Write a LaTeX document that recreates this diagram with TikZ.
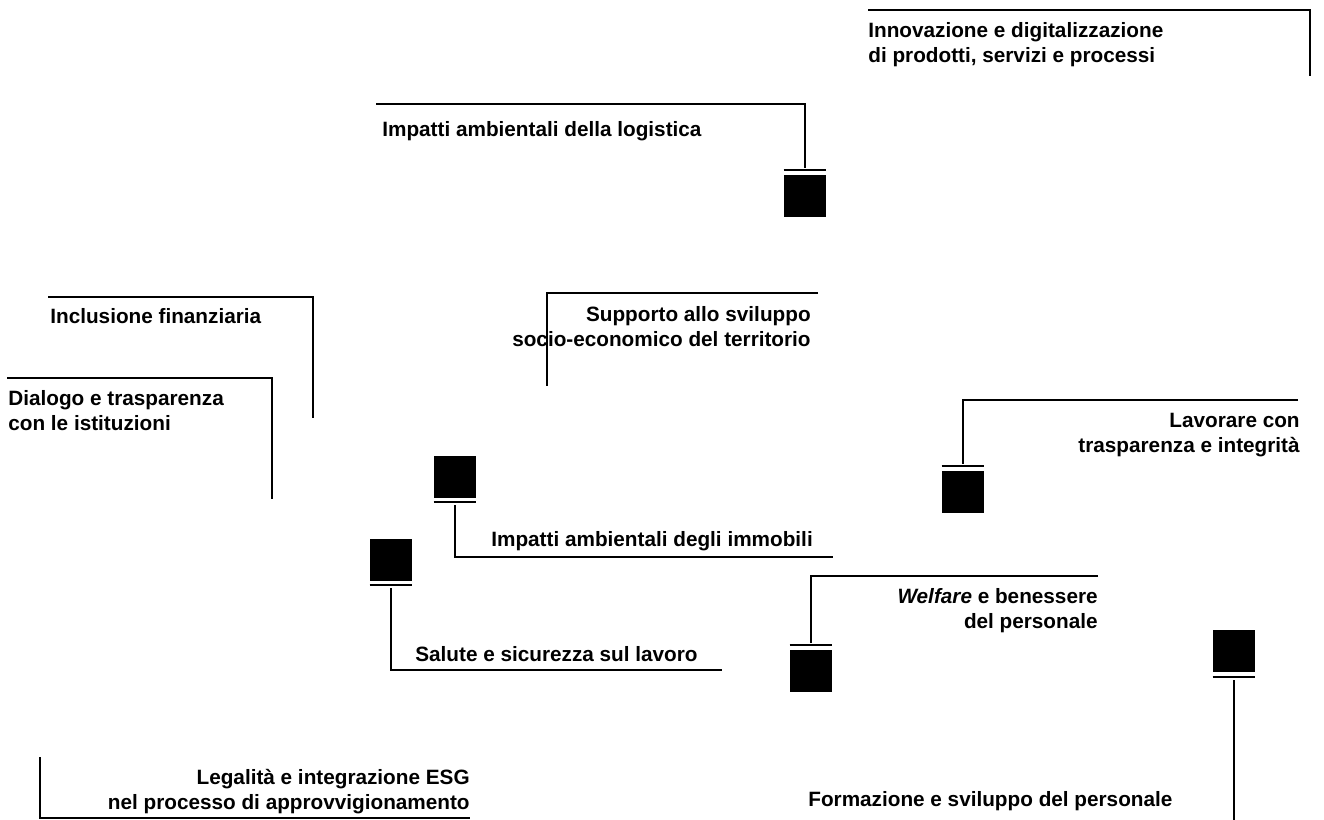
\documentclass[tikz,border=0pt]{standalone}
\usepackage{fontspec}
\setmainfont{Liberation Sans}
\usepackage{tikz}
\usetikzlibrary{positioning,calc}
\tikzset{
  mat topic/.style={font=\fontsize{11.8}{14.4}\selectfont\bfseries,inner sep=0pt},
  mat left/.style={mat topic,align=left,anchor=north west},
  mat right/.style={mat topic,align=right,anchor=north east},
  mat marker/.style={fill=black,draw=none,minimum width=0.84cm,minimum height=0.84cm,inner sep=0pt},
  mat leader/.style={line width=0.85pt,black},
  mat bar/.style={line width=1.3pt,black}
}

\begin{document}
\begin{tikzpicture}[x=0.02cm,y=-0.02cm]
  \useasboundingbox (0,0) rectangle (1324,820);

  % Topic labels
  \node[mat left] (inno) at (868,22) {Innovazione e digitalizzazione\\di prodotti, servizi e processi};
  \node[mat left] (logi) at (382,121) {Impatti ambientali della logistica};
  \node[mat left] (incl) at (50,308) {Inclusione finanziaria};
  \node[mat left] (dial) at (8,390) {Dialogo e trasparenza\\con le istituzioni};
  \node[mat right] (supp) at (811,306) {Supporto allo sviluppo\\socio-economico del territorio};
  \node[mat right] (lavo) at (1300,413) {Lavorare con\\trasparenza e integrità};
  \node[mat left] (immo) at (491,531) {Impatti ambientali degli immobili};
  \node[mat right] (welf) at (1098,588) {\textit{Welfare} e benessere\\del personale};
  \node[mat left] (salu) at (415,646) {Salute e sicurezza sul lavoro};
  \node[mat right] (lega) at (470,769) {Legalità e integrazione ESG\\nel processo di approvvigionamento};
  \node[mat left] (form) at (808,791) {Formazione e sviluppo del personale};

  % Black markers
  \node[mat marker] (logiSq) at (805,196) {};
  \node[mat marker] (lavoSq) at (963,492) {};
  \node[mat marker] (immoSq) at (455,477) {};
  \node[mat marker] (saluSq) at (391,560) {};
  \node[mat marker] (welfSq) at (811,671) {};
  \node[mat marker] (formSq) at (1234,651) {};

  % Bars sitting just off each marker, where the leader lands
  \coordinate (logiT) at ([yshift=0.1cm]logiSq.north);
  \coordinate (lavoT) at ([yshift=0.1cm]lavoSq.north);
  \coordinate (welfT) at ([yshift=0.1cm]welfSq.north);
  \coordinate (immoT) at ([yshift=-0.08cm]immoSq.south);
  \coordinate (saluT) at ([yshift=-0.08cm]saluSq.south);
  \coordinate (formT) at ([yshift=-0.1cm]formSq.south);
  \foreach \m in {logi,lavo,welf}
    \draw[mat bar] (\m Sq.west |- \m T) -- (\m Sq.east |- \m T);
  \foreach \m in {immo,salu,form}
    \draw[mat bar] (\m Sq.west |- \m T) -- (\m Sq.east |- \m T);

  % Frame corners and loose ends
  \coordinate (innoA) at (868,10);
  \coordinate (innoB) at (1310,10);
  \coordinate (innoC) at (1310,76);
  \coordinate (logiA) at (376,104);
  \coordinate (inclA) at (48,297);
  \coordinate (inclB) at (313,297);
  \coordinate (inclC) at (313,418);
  \coordinate (dialA) at (7,378);
  \coordinate (dialB) at (272,378);
  \coordinate (dialC) at (272,499);
  \coordinate (suppA) at (818,293);
  \coordinate (suppB) at (547,293);
  \coordinate (suppC) at (547,386);
  \coordinate (lavoA) at (1298,400);
  \coordinate (immoA) at (833,557);
  \coordinate (welfA) at (1098,576);
  \coordinate (saluA) at (722,670);
  \coordinate (formA) at (1234,820);
  \coordinate (legaA) at (40,757);
  \coordinate (legaB) at (40,818);
  \coordinate (legaC) at (470,818);

  % Leaders
  \draw[mat leader] (innoA) -- (innoB) -- (innoC);
  \draw[mat leader] (logiA) -| ([yshift=0.04cm]logiT);
  \draw[mat leader] (inclA) -- (inclB) -- (inclC);
  \draw[mat leader] (dialA) -- (dialB) -- (dialC);
  \draw[mat leader] (suppA) -- (suppB) -- (suppC);
  \draw[mat leader] (lavoA) -| ([yshift=0.04cm]lavoT);
  \draw[mat leader] ([yshift=-0.06cm]immoT) |- (immoA);
  \draw[mat leader] (welfA) -| ([yshift=0.04cm]welfT);
  \draw[mat leader] ([yshift=-0.06cm]saluT) |- (saluA);
  \draw[mat leader] ([yshift=-0.06cm]formT) -- (formA);
  \draw[mat leader] (legaA) -- (legaB) -- (legaC);
\end{tikzpicture}
\end{document}
